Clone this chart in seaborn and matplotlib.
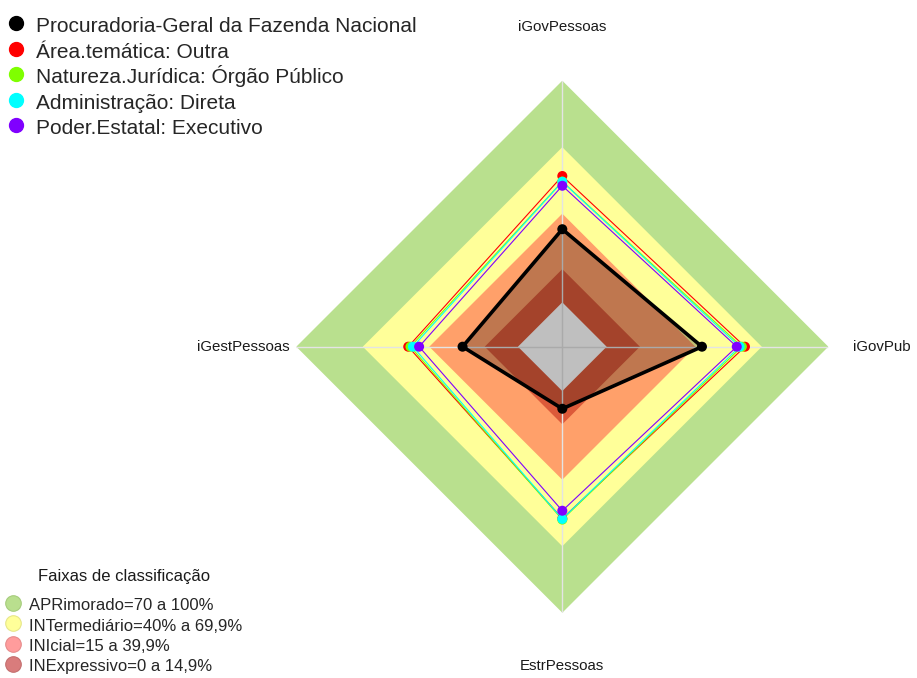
import numpy as np
import pandas as pd
import matplotlib
matplotlib.use("Agg")
import matplotlib.pyplot as plt
import seaborn as sns
from matplotlib.lines import Line2D

# ---------------- data ----------------
axis_labels = ["iGovPessoas", "iGovPub", "EstrPessoas", "iGestPessoas"]
series_names = [
    "Procuradoria-Geral da Fazenda Nacional",
    "Área.temática: Outra",
    "Natureza.Jurídica: Órgão Público",
    "Administração: Direta",
    "Poder.Estatal: Executivo",
]
pgfn = [33.0, 43.0, 8.0, 25.0]
area_outra = [57.0, 62.4, 57.5, 49.5]
natureza_orgao = [54.5, 61.0, 58.0, 48.5]
administracao_direta = [54.4, 60.0, 57.7, 47.4]
poder_executivo = [52.6, 58.7, 54.0, 44.6]
series_colors = ["#000000", "#ff0000", "#7fff00", "#00ffff", "#8000ff"]

band_limits = [100, 70, 40, 15, 0]
band_fill_colors = ["#b9e08e", "#ffff99", "#ffa06a", "#dc5a3a", "#ffffff"]
band_labels = [
    "APRimorado=70 a 100%",
    "INTermediário=40% a 69,9%",
    "INIcial=15 a 39,9%",
    "INExpressivo=0 a 14,9%",
]
band_legend_colors = ["#b9df8e", "#ffff99", "#ff9c9c", "#d97c7c"]
band_legend_edges = ["#a6cc7c", "#e6e68a", "#e68c8c", "#c46f6f"]
legend_title = "Faixas de classificação"
r_min, r_max = -20, 100
label_r = 124

# ---------------- style ----------------
sns.set_style("white")
plt.rcParams["font.family"] = ["Liberation Sans", "DejaVu Sans"]

fig = plt.figure(figsize=(9.17, 6.78), dpi=100)
fig.patch.set_facecolor("white")
ax = fig.add_axes([0.3231, 0.0963, 0.5802, 0.7847], projection="polar")
ax.set_theta_zero_location("N")
ax.set_theta_direction(-1)
ax.set_facecolor("none")

n = len(axis_labels)
angles = np.arange(n) * 2 * np.pi / n
angles_closed = np.append(angles, 2 * np.pi)

# background bands
for lim, col in zip(band_limits, band_fill_colors):
    ax.fill(angles_closed, [lim] * (n + 1), color=col, lw=0, zorder=1)

# spokes
for t in angles:
    ax.plot([t, t], [r_min, r_max], color="#e4e4e4", lw=1.0, zorder=2)

# translucent fill of the organisation polygon
ax.fill(angles_closed, pgfn + [pgfn[0]], color="black", alpha=0.25, lw=0, zorder=3)

# long data
all_values = [pgfn, area_outra, natureza_orgao, administracao_direta, poder_executivo]
rows = []
for name, vals in zip(series_names, all_values):
    closed = list(vals) + [vals[0]]
    for k, (t, v) in enumerate(zip(angles_closed, closed)):
        rows.append({"serie": name, "theta": t, "valor": v, "k": k})
df = pd.DataFrame(rows)
palette = dict(zip(series_names, series_colors))
sizes = {s: (2.6 if i == 0 else 0.8) for i, s in enumerate(series_names)}

sns.lineplot(data=df, x="theta", y="valor", hue="serie", size="serie",
             sizes=sizes, palette=palette, hue_order=series_names,
             sort=False, estimator=None, legend=False, ax=ax, zorder=4)

pts = df[df["k"] < n]
sns.scatterplot(data=pts, x="theta", y="valor", hue="serie", palette=palette,
                hue_order=series_names, s=52, linewidth=0, legend=False,
                ax=ax, zorder=5)

ax.set_xlabel("")
ax.set_ylabel("")
ax.set_ylim(r_min, r_max)
ax.set_xticks([])
ax.set_yticks([])
ax.grid(False)
ax.spines["polar"].set_visible(False)

for t, lab in zip(angles, axis_labels):
    ax.text(t, label_r, lab, ha="center", va="center", fontsize=10.8,
            color="#1a1a1a", clip_on=False)

# series legend (top-left)
handles = [Line2D([0], [0], marker="o", ls="none", markerfacecolor=c,
                  markeredgecolor=c, markersize=10) for c in series_colors]
fig.legend(handles, series_names, loc="upper left",
           bbox_to_anchor=(6 / 917, 1 - 14.5 / 678), frameon=False,
           fontsize=15, handlelength=0.97, handleheight=1.22,
           handletextpad=0.47, labelspacing=0.17, borderpad=0, borderaxespad=0)

# classification legend (bottom-left)
bh = [Line2D([0], [0], marker="o", ls="none", markerfacecolor=c,
             markeredgecolor=e, markeredgewidth=0.8, markersize=11.2)
      for c, e in zip(band_legend_colors, band_legend_edges)]
fig.legend(bh, band_labels, loc="lower left",
           bbox_to_anchor=(4.5 / 917, 1 - 674.2 / 678), frameon=False,
           fontsize=12, handlelength=1.0, handleheight=1.22,
           handletextpad=0.49, labelspacing=0.18, borderpad=0, borderaxespad=0)
fig.text(123.6 / 917, 1 - 576.7 / 678, legend_title, ha="center", va="center",
         fontsize=12, color="#1a1a1a")

fig.savefig("out.png", dpi=100, facecolor="white")
